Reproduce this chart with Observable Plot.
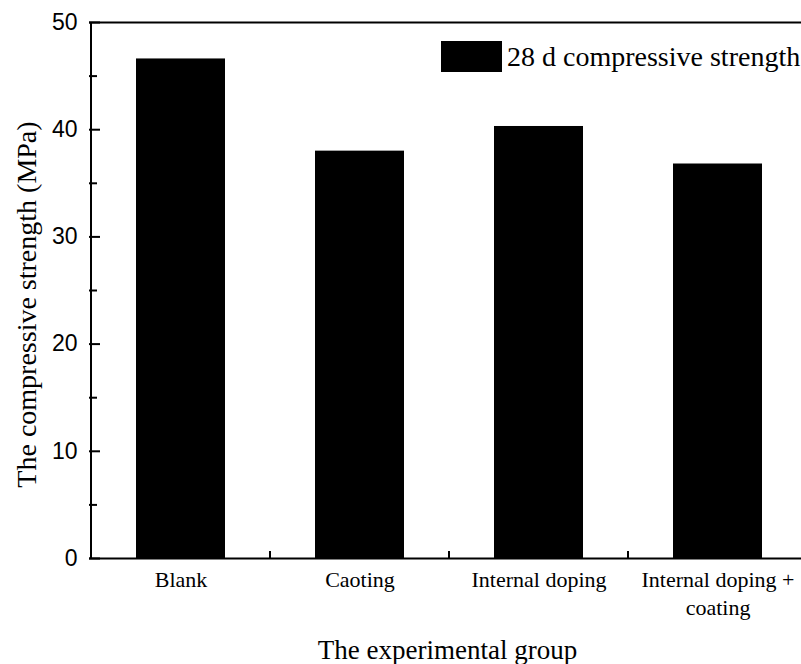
<!DOCTYPE html>
<html>
<head>
<meta charset="utf-8">
<script src="https://cdn.jsdelivr.net/npm/d3@7"></script>
<script src="https://cdn.jsdelivr.net/npm/@observablehq/plot@0.6"></script>
<style>
  html, body { margin: 0; padding: 0; background: #fff; }
  #wrap { position: relative; width: 801px; height: 664px; overflow: hidden; }
  #legend { position: absolute; left: 441px; top: 41px; height: 31px; display: flex; align-items: center;
            font-family: "Liberation Serif", serif; font-size: 28px; color: #000; white-space: nowrap; }
  #legend .sw { width: 61px; height: 31px; background: #000; margin-right: 5px; flex: none; }
</style>
</head>
<body>
<div id="wrap"><div id="legend"><div class="sw"></div><span id="legendText"></span></div></div>
<script>
const categories = ["Blank", "Caoting", "Internal doping", "Internal doping + coating"];
const categoryLabels = ["Blank", "Caoting", "Internal doping", "Internal doping +\ncoating"];
const strength = [46.6, 38.0, 40.3, 36.8];
const yMajorTicks = [0, 10, 20, 30, 40, 50];
const yMinorTicks = [5, 15, 25, 35, 45];
const seriesName = "28 d compressive strength";
const yTitle = "The compressive strength (MPa)";
const xTitle = "The experimental group";

document.getElementById("legendText").textContent = seriesName;

const data = categories.map((c, i) => ({group: c, value: strength[i]}));
const labelOf = new Map(categories.map((c, i) => [c, categoryLabels[i]]));

const serif = "Liberation Serif, Times New Roman, serif";
const sans = "Liberation Sans, Arial, sans-serif";

const chart = Plot.plot({
  width: 801,
  height: 664,
  marginLeft: 89,
  marginRight: 0,
  marginTop: 22,
  marginBottom: 106,
  style: {background: "#fff", overflow: "visible"},
  x: {type: "band", domain: categories, range: [89, 808], padding: 0, label: null},
  y: {domain: [0, 50], label: null},
  marks: [
    Plot.barY(data, {x: "group", y: "value", fill: "#000", insetLeft: 45, insetRight: 45}),
    // frame lines: bottom, top, left
    Plot.ruleY([0, 50], {stroke: "#000", strokeWidth: 2}),
    Plot.ruleX(categories.slice(0, 1), {x: d => d, dx: -90, y1: 0, y2: 50, stroke: "#000", strokeWidth: 2}),
    // y axis
    Plot.axisY({ticks: yMajorTicks, tickSize: 0, tickPadding: 12, fontSize: 23, fontFamily: sans, label: null, tickFormat: d => d}),
    Plot.axisY({ticks: yMajorTicks, tickSize: -11, text: null, strokeWidth: 2, label: null}),
    Plot.axisY({ticks: yMinorTicks, tickSize: -8, text: null, strokeWidth: 2, label: null}),
    // x axis labels
    Plot.axisX({tickSize: 0, tickPadding: 9, fontSize: 22, fontFamily: serif, lineHeight: 1.27, label: null, tickFormat: d => labelOf.get(d)}),
    // x ticks at band boundaries (pointing up)
    Plot.ruleX(categories.slice(1), {x: d => d, dx: -90, y1: 0, y2: 0.65, stroke: "#000", strokeWidth: 2}),
    // titles
    Plot.text([yTitle], {frameAnchor: "left", textAnchor: "middle", lineAnchor: "middle", rotate: -90, dx: -62, dy: 14, fontSize: 28, fontFamily: serif, fill: "#000"}),
    Plot.text([xTitle], {frameAnchor: "bottom", textAnchor: "middle", lineAnchor: "middle", dx: 2, dy: 92, fontSize: 27, fontFamily: serif, fill: "#000"})
  ]
});
const wrap = document.getElementById("wrap");
wrap.insertBefore(chart, wrap.firstChild);
</script>
</body>
</html>
